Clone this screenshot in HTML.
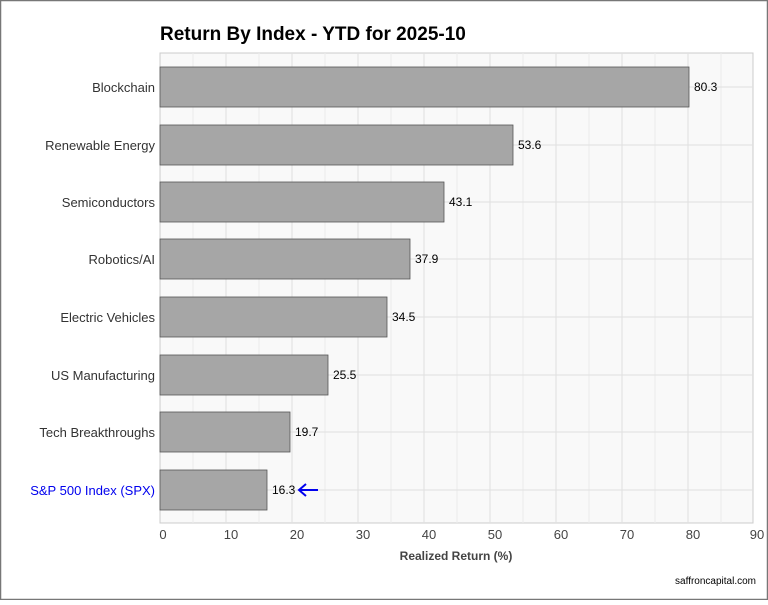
<!DOCTYPE html>
<html><head><style>body{margin:0;background:#fff}</style></head><body>
<svg width="768" height="600" xmlns="http://www.w3.org/2000/svg" font-family="Liberation Sans, sans-serif">
<rect width="768" height="600" fill="#fff"/>
<rect x="0.5" y="0.5" width="767" height="599" fill="none" stroke="#777" stroke-width="1.5"/>
<text x="160" y="40" font-size="19" font-weight="bold" fill="#000">Return By Index - YTD for 2025-10</text>
<rect x="160" y="53" width="593" height="470" fill="#f9f9f9" stroke="#ccc"/>
<g stroke="#ececec" stroke-width="1">
<line x1="193" y1="53" x2="193" y2="523"/><line x1="259" y1="53" x2="259" y2="523"/><line x1="325" y1="53" x2="325" y2="523"/><line x1="391" y1="53" x2="391" y2="523"/><line x1="457" y1="53" x2="457" y2="523"/><line x1="523" y1="53" x2="523" y2="523"/><line x1="589" y1="53" x2="589" y2="523"/><line x1="655" y1="53" x2="655" y2="523"/><line x1="721" y1="53" x2="721" y2="523"/>
</g>
<g stroke="#e0e0e0" stroke-width="1">
<line x1="226" y1="53" x2="226" y2="523"/><line x1="292" y1="53" x2="292" y2="523"/><line x1="358" y1="53" x2="358" y2="523"/><line x1="424" y1="53" x2="424" y2="523"/><line x1="490" y1="53" x2="490" y2="523"/><line x1="556" y1="53" x2="556" y2="523"/><line x1="622" y1="53" x2="622" y2="523"/><line x1="688" y1="53" x2="688" y2="523"/>
<line x1="160" y1="87" x2="753" y2="87"/><line x1="160" y1="145" x2="753" y2="145"/><line x1="160" y1="202" x2="753" y2="202"/><line x1="160" y1="259" x2="753" y2="259"/><line x1="160" y1="317" x2="753" y2="317"/><line x1="160" y1="375" x2="753" y2="375"/><line x1="160" y1="432" x2="753" y2="432"/><line x1="160" y1="490" x2="753" y2="490"/>
</g>
<g fill="#a6a6a6" stroke="#555" stroke-width="0.8">
<rect x="160" y="67" width="529" height="40"/>
<rect x="160" y="125" width="353" height="40"/>
<rect x="160" y="182" width="284" height="40"/>
<rect x="160" y="239" width="250" height="40"/>
<rect x="160" y="297" width="227" height="40"/>
<rect x="160" y="355" width="168" height="40"/>
<rect x="160" y="412" width="130" height="40"/>
<rect x="160" y="470" width="107" height="40"/>
</g>
<g font-size="12" fill="#000">
<text x="694" y="91">80.3</text><text x="518" y="149">53.6</text><text x="449" y="206">43.1</text><text x="415" y="263">37.9</text><text x="392" y="321">34.5</text><text x="333" y="379">25.5</text><text x="295" y="436">19.7</text><text x="272" y="494">16.3</text>
</g>
<g stroke="#0000ee" stroke-width="2" fill="none"><line x1="299" y1="490" x2="318" y2="490"/><polyline points="306,484 299,490 306,496"/></g>
<g font-size="13" fill="#333" text-anchor="end">
<text x="155" y="92">Blockchain</text><text x="155" y="150">Renewable Energy</text><text x="155" y="207">Semiconductors</text><text x="155" y="264">Robotics/AI</text><text x="155" y="322">Electric Vehicles</text><text x="155" y="380">US Manufacturing</text><text x="155" y="437">Tech Breakthroughs</text><text x="155" y="495" fill="#0000ee">S&amp;P 500 Index (SPX)</text>
</g>
<g font-size="13" fill="#444" text-anchor="middle">
<text x="163" y="539">0</text><text x="231" y="539">10</text><text x="297" y="539">20</text><text x="363" y="539">30</text><text x="429" y="539">40</text><text x="495" y="539">50</text><text x="561" y="539">60</text><text x="627" y="539">70</text><text x="693" y="539">80</text><text x="757" y="539">90</text>
</g>
<text x="456" y="560" font-size="12" font-weight="bold" fill="#444" text-anchor="middle">Realized Return (%)</text>
<text x="756" y="584" font-size="10" fill="#000" text-anchor="end">saffroncapital.com</text>
</svg>
</body></html>
